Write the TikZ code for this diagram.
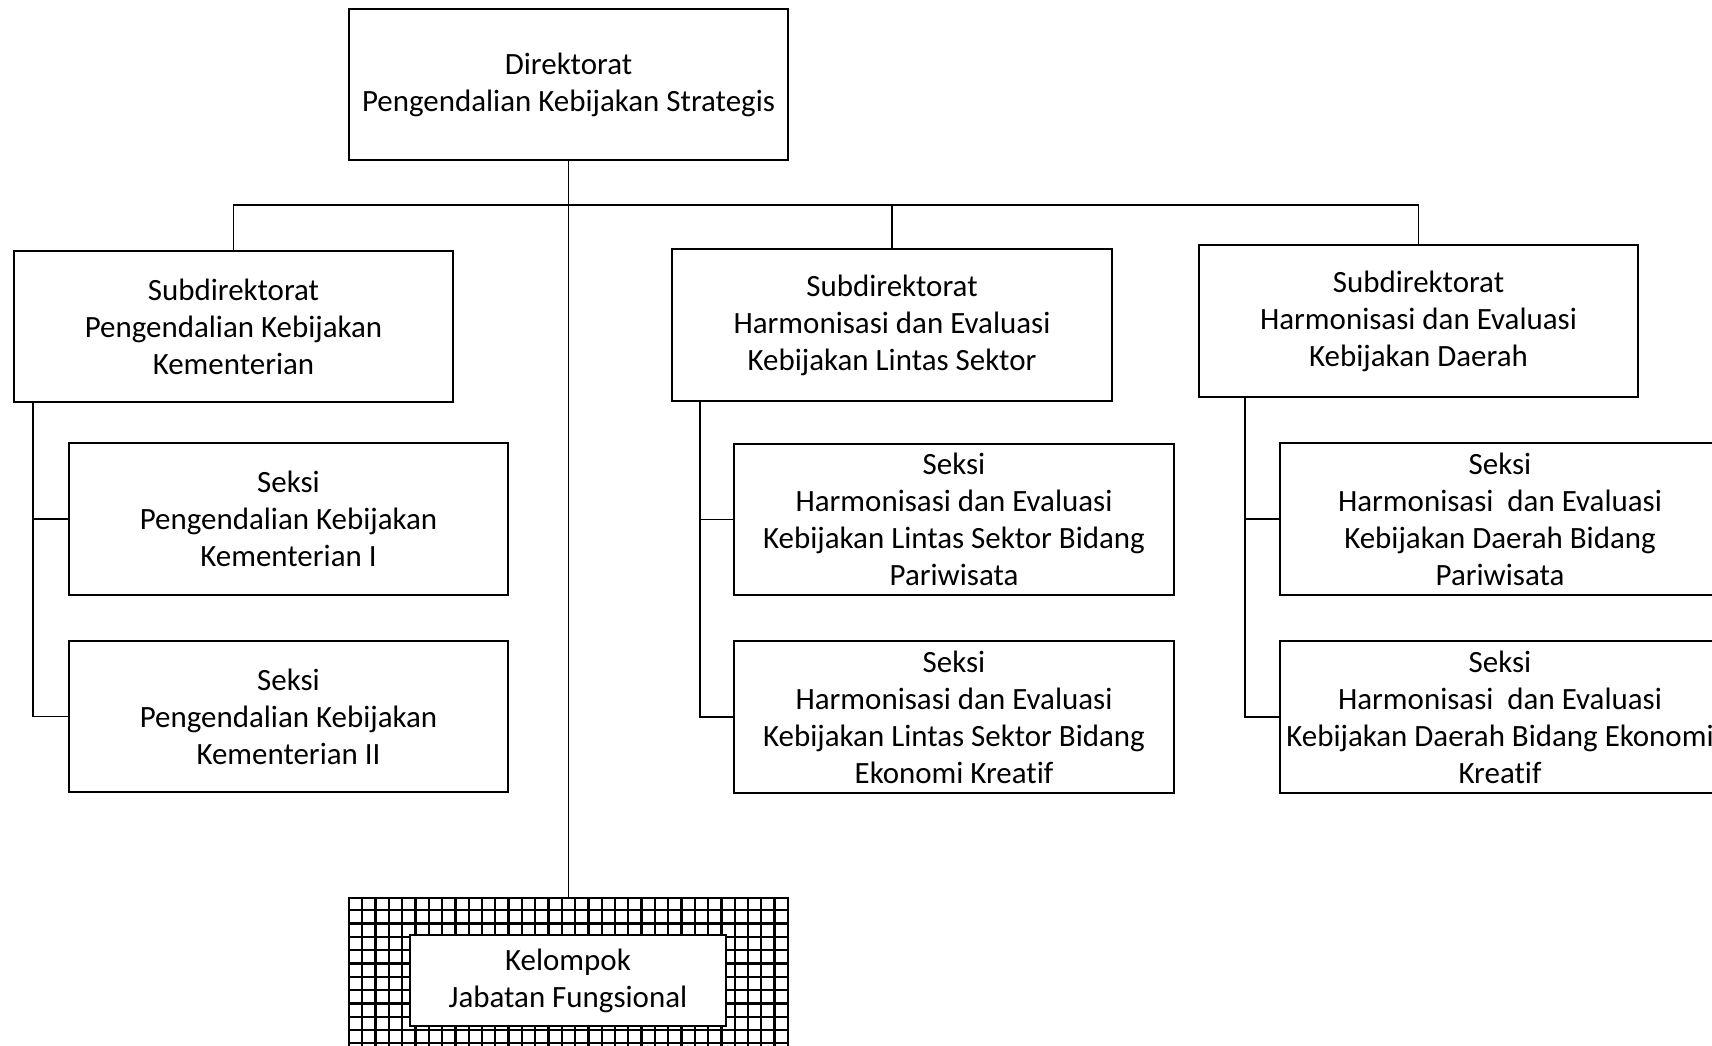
\documentclass[tikz,border=0pt]{standalone}
\usepackage{fontspec}
\setmainfont{Carlito}[Ligatures=NoCommon]
\usetikzlibrary{positioning}

\begin{document}
\begin{tikzpicture}[x=0.01cm,y=-0.01cm,
  unit/.style={draw, line width=0.55pt, minimum width=4.39cm, minimum height=1.51cm,
    align=center, inner sep=0pt, font=\fontsize{8.8}{10.5}\selectfont, fill=white},
  link/.style={line width=0.5pt},
  gridline/.style={line width=0.65pt}]
  \useasboundingbox (0,0) rectangle (1712,1046);

  % Direktorat and subdirektorat
  \node[unit] (dir) at (568.5,84.5) {Direktorat\\Pengendalian Kebijakan Strategis};
  \node[unit] (sub1) at (233.5,326.5) {Subdirektorat\\Pengendalian Kebijakan\\Kementerian};
  \node[unit] (sub2) at (892,325) {Subdirektorat\\Harmonisasi dan Evaluasi\\Kebijakan Lintas Sektor};
  \node[unit] (sub3) at (1418.5,321) {Subdirektorat\\Harmonisasi dan Evaluasi\\Kebijakan Daerah};

  % Seksi
  \node[unit] (sek1a) at (288.5,519) {Seksi\\Pengendalian Kebijakan\\Kementerian I};
  \node[unit] (sek1b) at (288.5,716.5) {Seksi\\Pengendalian Kebijakan\\Kementerian II};
  \node[unit] (sek2a) at (954,519.5) {Seksi\\Harmonisasi dan Evaluasi\\Kebijakan Lintas Sektor Bidang\\Pariwisata};
  \node[unit] (sek2b) at (954,717) {Seksi\\Harmonisasi dan Evaluasi\\Kebijakan Lintas Sektor Bidang\\Ekonomi Kreatif};
  \node[unit] (sek3a) at (1500,519) {Seksi\\Harmonisasi~ dan Evaluasi\\Kebijakan Daerah Bidang\\Pariwisata};
  \node[unit] (sek3b) at (1500,717) {Seksi\\Harmonisasi~ dan Evaluasi\\Kebijakan Daerah Bidang Ekonomi\\Kreatif};

  % Kelompok jabatan fungsional (grid box)
  \begin{scope}
    \clip (349,897) rectangle (788,1060);
    \foreach \gx in {0,...,33} {
      \draw[gridline] (349+\gx*13.3,897) -- ++(0,170);
    }
    \foreach \gy in {0,...,12} {
      \draw[gridline] (349,897+\gy*13.3) -- ++(439,0);
    }
  \end{scope}
  \node[draw, line width=0.6pt, minimum width=4.39cm, minimum height=1.63cm, anchor=north] (fung) at (568.5,897) {};
  \node[unit, minimum width=3.16cm, minimum height=0.91cm] (kjf) at (568,980.5) {Kelompok\\Jabatan Fungsional};

  % Bus lines
  \coordinate (bus) at (0,205);
  \draw[link] (dir.south) -- (fung.north);
  \draw[link] (sub1.north) -- (sub1.north |- bus) -- (sub3.north |- bus) -- (sub3.north);
  \draw[link] (sub2.north) -- (sub2.north |- bus);

  % Spines to seksi
  \coordinate (sp1) at (33,0);
  \coordinate (sp2) at (700,0);
  \coordinate (sp3) at (1245,0);
  \draw[link] (sp1 |- sub1.south) |- (sek1b.west);
  \draw[link] (sp1 |- sek1a.west) -- (sek1a.west);
  \draw[link] (sp2 |- sub2.south) |- (sek2b.west);
  \draw[link] (sp2 |- sek2a.west) -- (sek2a.west);
  \draw[link] (sp3 |- sub3.south) |- (sek3b.west);
  \draw[link] (sp3 |- sek3a.west) -- (sek3a.west);
\end{tikzpicture}
\end{document}
